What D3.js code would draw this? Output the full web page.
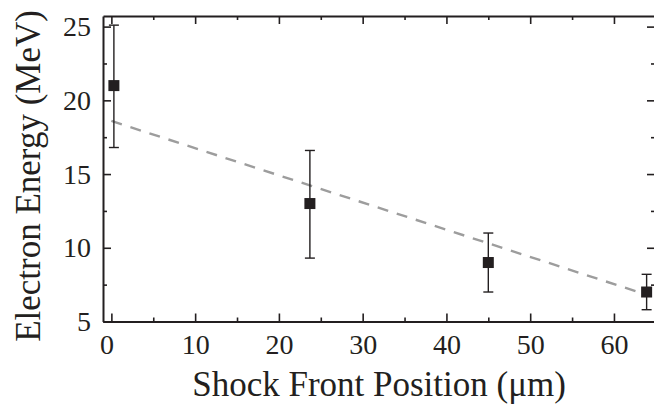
<!DOCTYPE html>
<html>
<head>
<meta charset="utf-8">
<script src="https://cdn.jsdelivr.net/npm/d3@7"></script>
<style>
  body { margin: 0; background: #fff; }
  svg { display: block; }
  .tick text { font-family: "Liberation Serif", "Times New Roman", serif; font-size: 28px; fill: #231f20; }
  .domain, .tick line { stroke: #231f20; }
</style>
</head>
<body>
<svg></svg>
<script>
// data
let positions = [0.3, 23.7, 45.0, 63.9];
let energies = [21, 13, 9, 7];
let errLow = [16.8, 9.3, 7.0, 5.8];
let errHigh = [25.1, 16.6, 11.0, 8.2];
let fitX = [0, 64];
let fitY = [18.6, 6.8];
let xTicks = [0, 10, 20, 30, 40, 50, 60];
let yTicks = [5, 10, 15, 20, 25];

let width = 654;
let height = 407;
let plotLeft = 103, plotRight = 655, plotTop = 16, plotBottom = 321.5;

let svg = d3.select("svg").attr("width", width).attr("height", height);

let xScale = d3.scaleLinear().domain([-1, 64.9]).range([plotLeft, plotRight]);
let yScale = d3.scaleLinear().domain([5, 25.72]).range([plotBottom, plotTop]);

const minorOf = (ticks, step, lo, hi) => {
    let out = [];
    ticks.forEach(t => { if (t + step >= lo && t + step <= hi) out.push(t + step); });
    if (ticks[0] - step >= lo) out.unshift(ticks[0] - step);
    return out;
};
let xMinor = minorOf(xTicks, 5, -1, 64.9);
let yMinor = minorOf(yTicks, 2.5, 5, 25.72);

// bottom axis, ticks inward
svg.append("g")
   .attr("class", "x-axis")
   .attr("transform", `translate(0, ${plotBottom})`)
   .call(d3.axisBottom(xScale).tickValues(xTicks).tickSize(-8).tickPadding(12.5).tickSizeOuter(0))
   .call(g => g.select(".domain").attr("stroke-width", 2));
svg.append("g")
   .attr("transform", `translate(0, ${plotBottom})`)
   .call(d3.axisBottom(xScale).tickValues(xMinor).tickSize(-4).tickFormat("").tickSizeOuter(0))
   .call(g => g.select(".domain").remove());

// the "0" label sits a little left of its tick in the original
svg.selectAll(".x-axis .tick text").filter(d => d === 0).attr("dx", -5);

// top axis
svg.append("g")
   .attr("transform", `translate(0, ${plotTop})`)
   .call(d3.axisTop(xScale).tickValues(xTicks).tickSize(-8).tickFormat("").tickSizeOuter(0))
   .call(g => g.select(".domain").attr("stroke-width", 2));
svg.append("g")
   .attr("transform", `translate(0, ${plotTop})`)
   .call(d3.axisTop(xScale).tickValues(xMinor).tickSize(-4).tickFormat("").tickSizeOuter(0))
   .call(g => g.select(".domain").remove());

// left axis
svg.append("g")
   .attr("transform", `translate(${plotLeft}, 0)`)
   .call(d3.axisLeft(yScale).tickValues(yTicks).tickSize(-8).tickPadding(12).tickSizeOuter(0))
   .call(g => g.select(".domain").attr("stroke-width", 2));
svg.append("g")
   .attr("transform", `translate(${plotLeft}, 0)`)
   .call(d3.axisLeft(yScale).tickValues(yMinor).tickSize(-4).tickFormat("").tickSizeOuter(0))
   .call(g => g.select(".domain").remove());

// right axis
svg.append("g")
   .attr("transform", `translate(${plotRight}, 0)`)
   .call(d3.axisRight(yScale).tickValues(yTicks).tickSize(-8).tickFormat("").tickSizeOuter(0))
   .call(g => g.select(".domain").attr("stroke-width", 2));
svg.append("g")
   .attr("transform", `translate(${plotRight}, 0)`)
   .call(d3.axisRight(yScale).tickValues(yMinor).tickSize(-4).tickFormat("").tickSizeOuter(0))
   .call(g => g.select(".domain").remove());

svg.selectAll(".tick line").attr("stroke-width", 1.6);

// dashed fit line
svg.append("path")
   .datum(fitX.map((x, i) => [x, fitY[i]]))
   .attr("d", d3.line().x(d => xScale(d[0])).y(d => yScale(d[1])))
   .attr("fill", "none")
   .attr("stroke", "#9d9d9d")
   .attr("stroke-width", 2.4)
   .attr("stroke-dasharray", "11,9");

// error bars
let pts = positions.map((x, i) => ({ x: x, y: energies[i], lo: errLow[i], hi: errHigh[i] }));
let eb = svg.append("g").attr("stroke", "#231f20").attr("stroke-width", 1.4);
pts.forEach(d => {
    let cx = xScale(d.x);
    eb.append("line").attr("x1", cx).attr("x2", cx).attr("y1", yScale(d.lo)).attr("y2", yScale(d.hi));
    eb.append("line").attr("x1", cx - 5).attr("x2", cx + 5).attr("y1", yScale(d.lo)).attr("y2", yScale(d.lo));
    eb.append("line").attr("x1", cx - 5).attr("x2", cx + 5).attr("y1", yScale(d.hi)).attr("y2", yScale(d.hi));
});

// square markers
svg.selectAll("rect.pt")
   .data(pts)
   .enter()
   .append("rect")
   .attr("class", "pt")
   .attr("x", d => xScale(d.x) - 5.5)
   .attr("y", d => yScale(d.y) - 5.5)
   .attr("width", 11)
   .attr("height", 11)
   .attr("fill", "#231f20");

// axis titles
svg.append("text")
   .attr("x", 379)
   .attr("y", 396)
   .attr("text-anchor", "middle")
   .attr("font-family", "Liberation Serif, serif")
   .attr("font-size", 35)
   .attr("fill", "#231f20")
   .text("Shock Front Position (μm)");

svg.append("text")
   .attr("transform", `translate(40, 176) rotate(-90)`)
   .attr("text-anchor", "middle")
   .attr("font-family", "Liberation Serif, serif")
   .attr("font-size", 35)
   .attr("fill", "#231f20")
   .text("Electron Energy (MeV)");
</script>
</body>
</html>
